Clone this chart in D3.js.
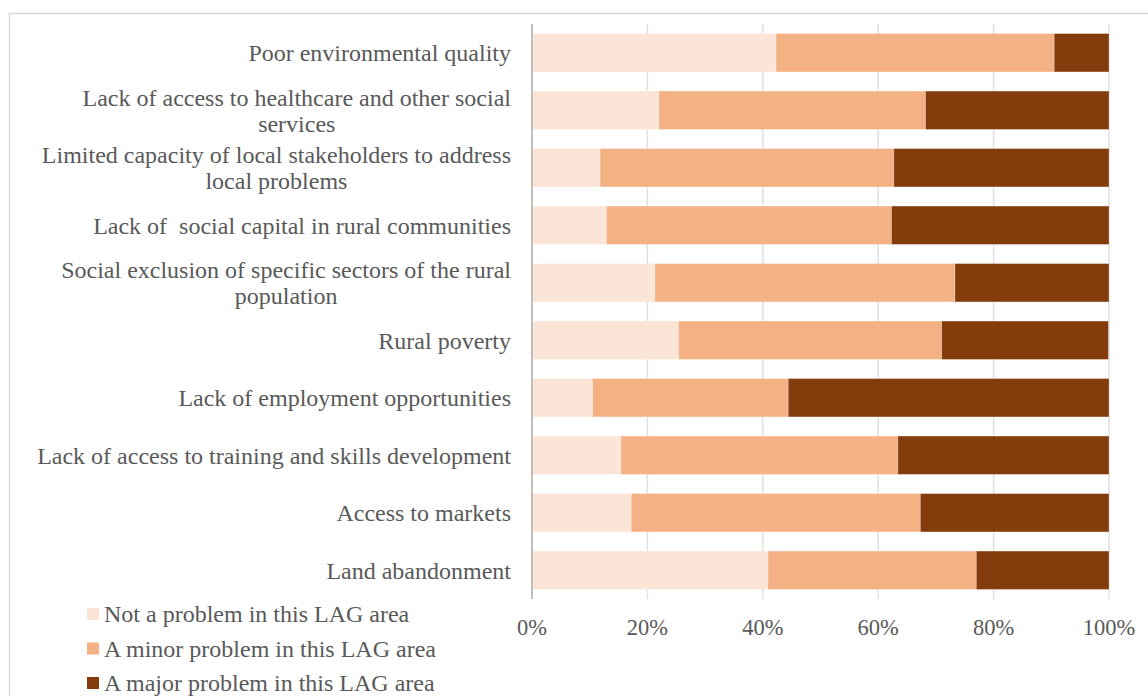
<!DOCTYPE html>
<html>
<head>
<meta charset="utf-8">
<script src="https://cdnjs.cloudflare.com/ajax/libs/d3/7.8.5/d3.min.js"></script>
<style>
  body { margin: 0; background: #fff; }
  svg { display: block; }
  text { font-family: "Liberation Serif", "Times New Roman", serif; fill: #595959; }
</style>
</head>
<body>
<svg id="chart" width="1148" height="696"></svg>
<script>
// categories, top to bottom (each entry = lines of the label)
var categories = [
    ["Poor environmental quality"],
    ["Lack of access to healthcare and other social", "services"],
    ["Limited capacity of local stakeholders to address", "local problems"],
    ["Lack of  social capital in rural communities"],
    ["Social exclusion of specific sectors of the rural", "population"],
    ["Rural poverty"],
    ["Lack of employment opportunities"],
    ["Lack of access to training and skills development"],
    ["Access to markets"],
    ["Land abandonment"]
];

// shares in percent, same order as categories
var notProblem   = [42.3, 22.0, 11.8, 12.9, 21.3, 25.4, 10.5, 15.4, 17.2, 40.9];
var minorProblem = [48.2, 46.2, 50.9, 49.4, 52.0, 45.6, 33.9, 48.0, 50.1, 36.1];
var majorProblem = [ 9.5, 31.8, 37.3, 37.7, 26.7, 28.9, 55.6, 36.6, 32.7, 23.0];

var seriesNames = ["Not a problem in this LAG area", "A minor problem in this LAG area", "A major problem in this LAG area"];
var seriesColors = ["#fbe5d6", "#f4b183", "#843c0c"];
var xTicks = [0, 20, 40, 60, 80, 100];

var svg = d3.select("#chart");

// outer frame
svg.append("rect")
    .attr("x", 9.5).attr("y", 13.5)
    .attr("width", 1160).attr("height", 700)
    .attr("fill", "none")
    .attr("stroke", "#d9d9d9")
    .attr("stroke-width", 1.5);

var plotLeft = 532, plotRight = 1109, plotTop = 24, plotBottom = 599;

var x = d3.scaleLinear().domain([0, 100]).range([plotLeft, plotRight]);
var y = d3.scaleBand()
    .domain(d3.range(categories.length))
    .range([plotTop, plotBottom])
    .paddingInner(0.333)
    .paddingOuter(0.1665);

// gridlines
svg.append("g")
    .selectAll("line")
    .data(xTicks.slice(1))
    .enter()
    .append("line")
    .attr("x1", function(d){ return x(d); })
    .attr("x2", function(d){ return x(d); })
    .attr("y1", plotTop)
    .attr("y2", plotBottom)
    .attr("stroke", "#e0e0e0")
    .attr("stroke-width", 1.5);

// stack data
var rows = categories.map(function(c, i){
    return { idx: i, not: notProblem[i], minor: minorProblem[i], major: majorProblem[i] };
});
var stack = d3.stack().keys(["not", "minor", "major"]);
var stacked = stack(rows);

svg.append("g")
    .selectAll("g")
    .data(stacked)
    .enter()
    .append("g")
    .attr("fill", function(d, i){ return seriesColors[i]; })
    .selectAll("rect")
    .data(function(d){ return d; })
    .enter()
    .append("rect")
    .attr("x", function(d){ return x(d[0]); })
    .attr("y", function(d){ return y(d.data.idx); })
    .attr("width", function(d){ return x(d[1]) - x(d[0]); })
    .attr("height", y.bandwidth())
    .attr("stroke", "#ffffff")
    .attr("stroke-opacity", 0.35)
    .attr("stroke-width", 0.75);

// vertical axis line
svg.append("line")
    .attr("x1", plotLeft).attr("x2", plotLeft)
    .attr("y1", plotTop).attr("y2", plotBottom)
    .attr("stroke", "#bfbfbf")
    .attr("stroke-width", 2);

// x tick labels
svg.append("g")
    .selectAll("text")
    .data(xTicks)
    .enter()
    .append("text")
    .attr("x", function(d){ return x(d); })
    .attr("y", 635)
    .attr("text-anchor", "middle")
    .style("font-size", "22.5px")
    .text(function(d){ return d + "%"; });

// category labels (wrapped lines centered within a right-aligned block)
var labelRight = 511, lineH = 26;
var labelG = svg.append("g");
categories.forEach(function(lines, i){
    var cy = y(i) + y.bandwidth() / 2;
    var g = labelG.append("g");
    var texts = lines.map(function(line, j){
        return g.append("text")
            .attr("y", cy + (j - (lines.length - 1) / 2) * lineH)
            .attr("dy", "0.35em")
            .style("font-size", "24px")
            .style("white-space", "pre")
            .attr("text-anchor", "middle")
            .text(line);
    });
    var maxW = d3.max(texts, function(t){ return t.node().getComputedTextLength(); });
    texts.forEach(function(t){ t.attr("x", labelRight - maxW / 2); });
});

// legend
var legend = svg.append("g")
    .selectAll("g")
    .data(seriesNames)
    .enter()
    .append("g")
    .attr("transform", function(d, i){ return "translate(87," + (614 + i * 34.5) + ")"; });

legend.append("rect")
    .attr("x", 0).attr("y", -6)
    .attr("width", 12).attr("height", 12)
    .attr("fill", function(d, i){ return seriesColors[i]; });

legend.append("text")
    .attr("x", 17)
    .attr("dy", "0.35em")
    .style("font-size", "24px")
    .text(function(d){ return d; });
</script>
</body>
</html>
